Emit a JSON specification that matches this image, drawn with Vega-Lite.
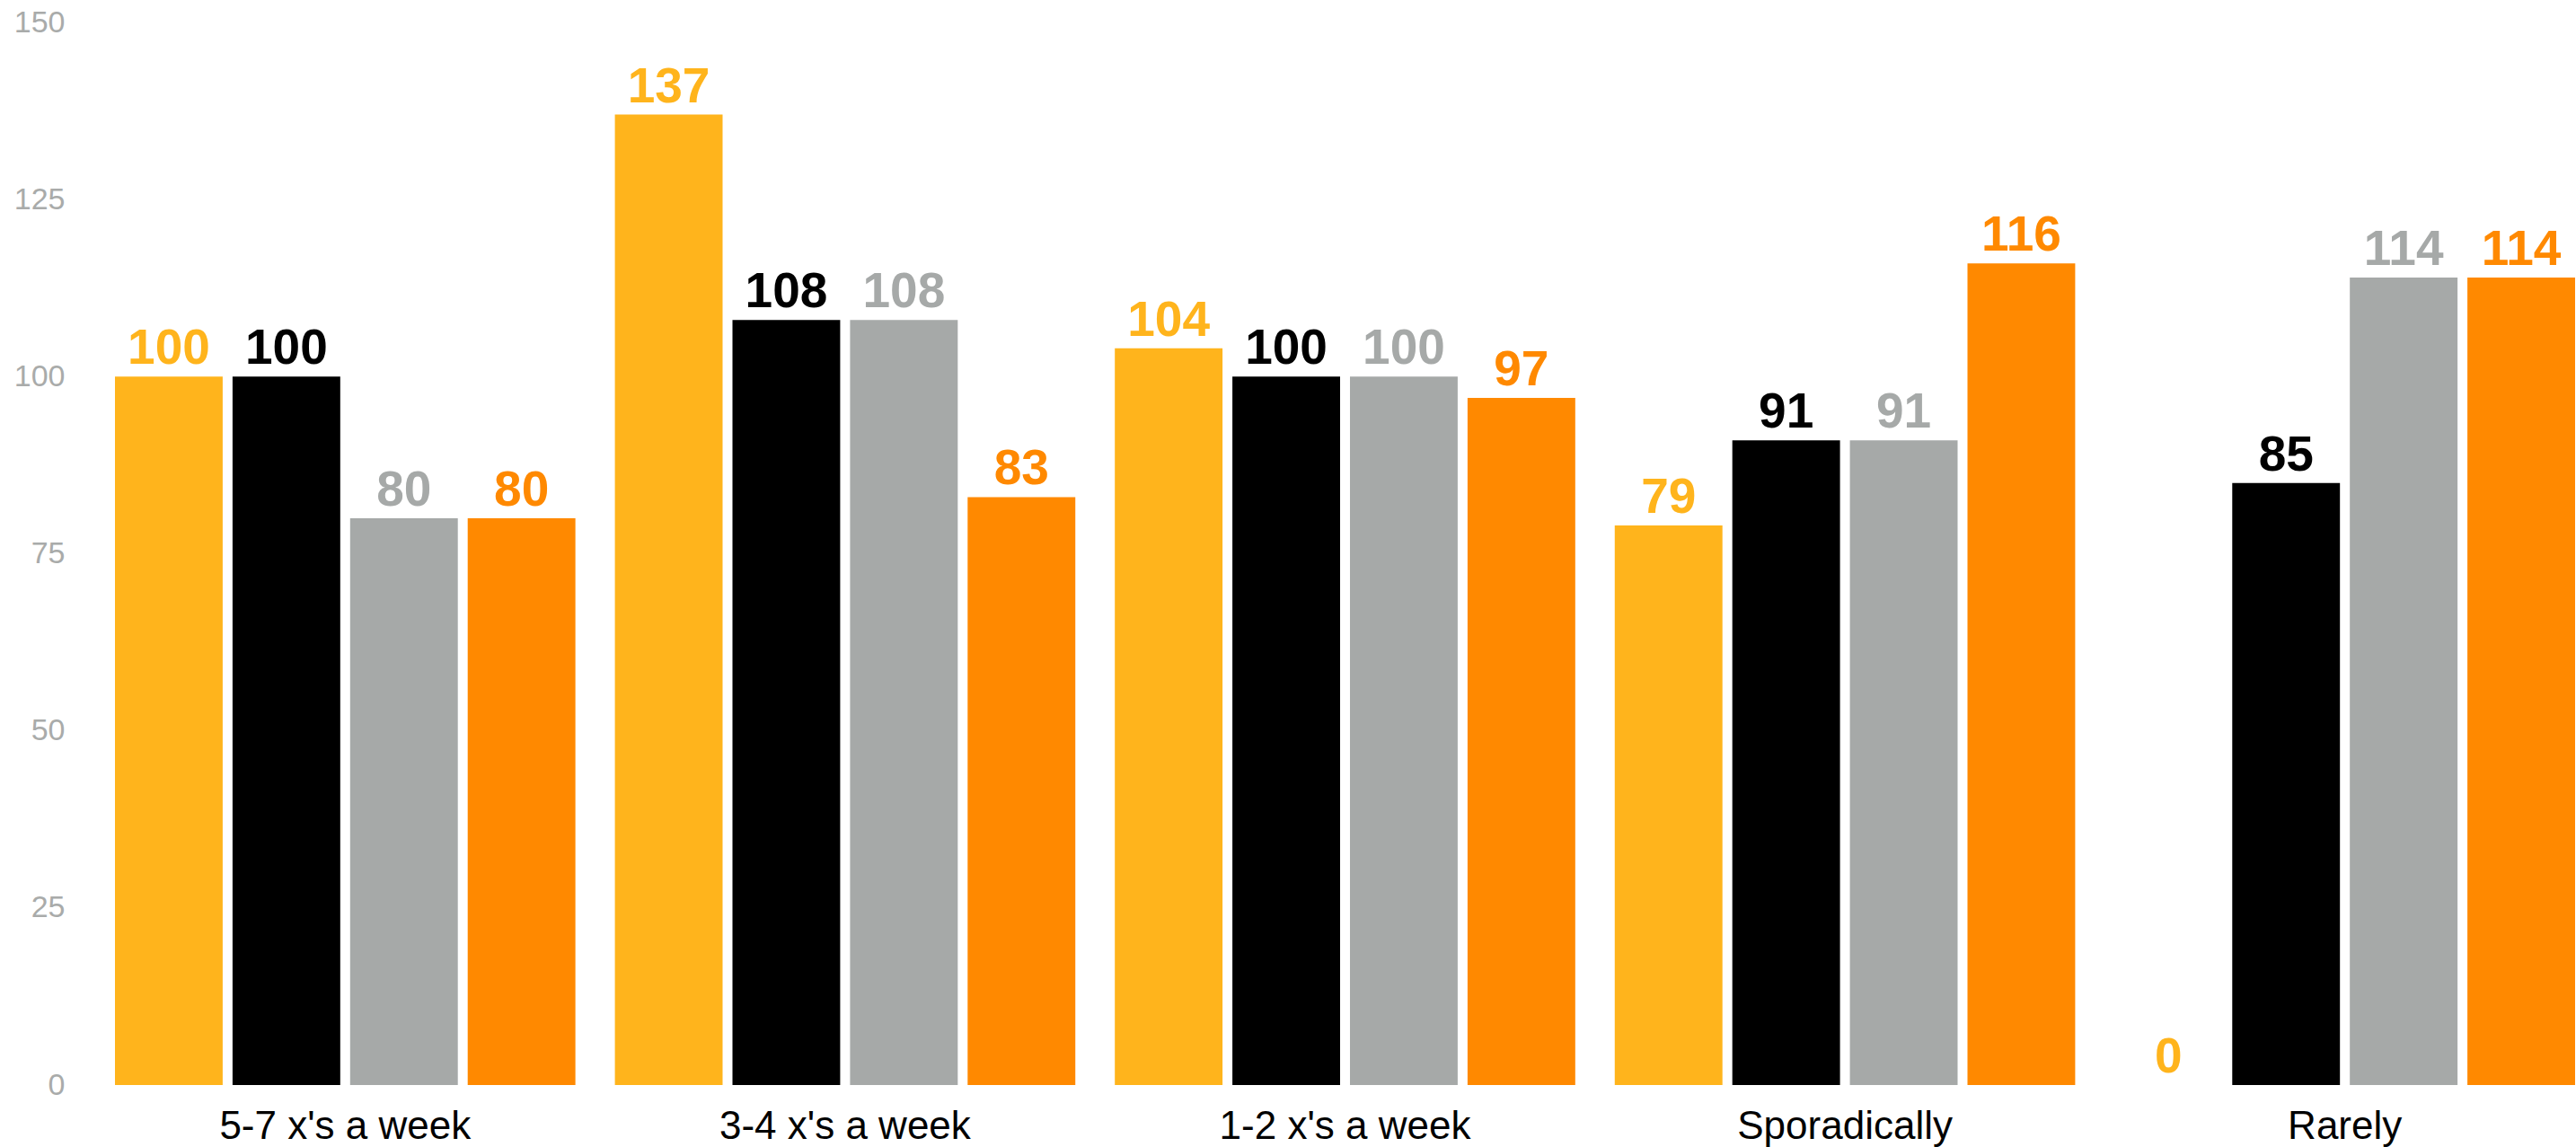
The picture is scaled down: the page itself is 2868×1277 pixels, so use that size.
{
  "$schema": "https://vega.github.io/schema/vega-lite/v6.json",
  "width": 2739,
  "height": 1183,
  "autosize": {"type": "none"},
  "padding": {"left": 128, "top": 25, "right": 1, "bottom": 69},
  "background": "white",
  "config": {"view": {"stroke": null}, "font": "Liberation Sans"},
  "data": {
    "values": [
      {"group": "5-7 x's a week", "series": "S1", "value": 100},
      {"group": "5-7 x's a week", "series": "S2", "value": 100},
      {"group": "5-7 x's a week", "series": "S3", "value": 80},
      {"group": "5-7 x's a week", "series": "S4", "value": 80},
      {"group": "3-4 x's a week", "series": "S1", "value": 137},
      {"group": "3-4 x's a week", "series": "S2", "value": 108},
      {"group": "3-4 x's a week", "series": "S3", "value": 108},
      {"group": "3-4 x's a week", "series": "S4", "value": 83},
      {"group": "1-2 x's a week", "series": "S1", "value": 104},
      {"group": "1-2 x's a week", "series": "S2", "value": 100},
      {"group": "1-2 x's a week", "series": "S3", "value": 100},
      {"group": "1-2 x's a week", "series": "S4", "value": 97},
      {"group": "Sporadically", "series": "S1", "value": 79},
      {"group": "Sporadically", "series": "S2", "value": 91},
      {"group": "Sporadically", "series": "S3", "value": 91},
      {"group": "Sporadically", "series": "S4", "value": 116},
      {"group": "Rarely", "series": "S1", "value": 0},
      {"group": "Rarely", "series": "S2", "value": 85},
      {"group": "Rarely", "series": "S3", "value": 114},
      {"group": "Rarely", "series": "S4", "value": 114}
    ]
  },
  "encoding": {
    "x": {
      "field": "group",
      "type": "nominal",
      "sort": null,
      "scale": {"paddingInner": 0.079, "paddingOuter": 0},
      "axis": {
        "title": null,
        "labelAngle": 0,
        "domain": false,
        "ticks": false,
        "labelPadding": 24,
        "labelFontSize": 44,
        "labelLimit": 0,
        "labelColor": "#000000",
        "labelBaseline": "top",
        "labelFont": "Liberation Sans"
      }
    },
    "xOffset": {
      "field": "series",
      "type": "nominal",
      "sort": ["S1", "S2", "S3", "S4"],
      "scale": {"paddingInner": 0.084, "paddingOuter": 0}
    },
    "y": {
      "field": "value",
      "type": "quantitative",
      "scale": {"domain": [0, 150], "nice": false, "zero": true},
      "axis": {
        "title": null,
        "values": [0, 25, 50, 75, 100, 125, 150],
        "grid": false,
        "domain": false,
        "ticks": false,
        "labelPadding": 56,
        "labelFontSize": 34,
        "labelColor": "#A9ABAA",
        "labelFont": "Liberation Sans"
      }
    },
    "color": {
      "field": "series",
      "type": "nominal",
      "scale": {"domain": ["S1", "S2", "S3", "S4"], "range": ["#FFB41C", "#000000", "#A6A9A8", "#FF8900"]},
      "legend": null
    }
  },
  "layer": [
    {"mark": {"type": "bar"}},
    {
      "mark": {"type": "text", "baseline": "alphabetic", "dy": -14, "fontSize": 55, "fontWeight": "bold", "font": "Liberation Sans"},
      "encoding": {"text": {"field": "value", "type": "quantitative"}}
    }
  ]
}
